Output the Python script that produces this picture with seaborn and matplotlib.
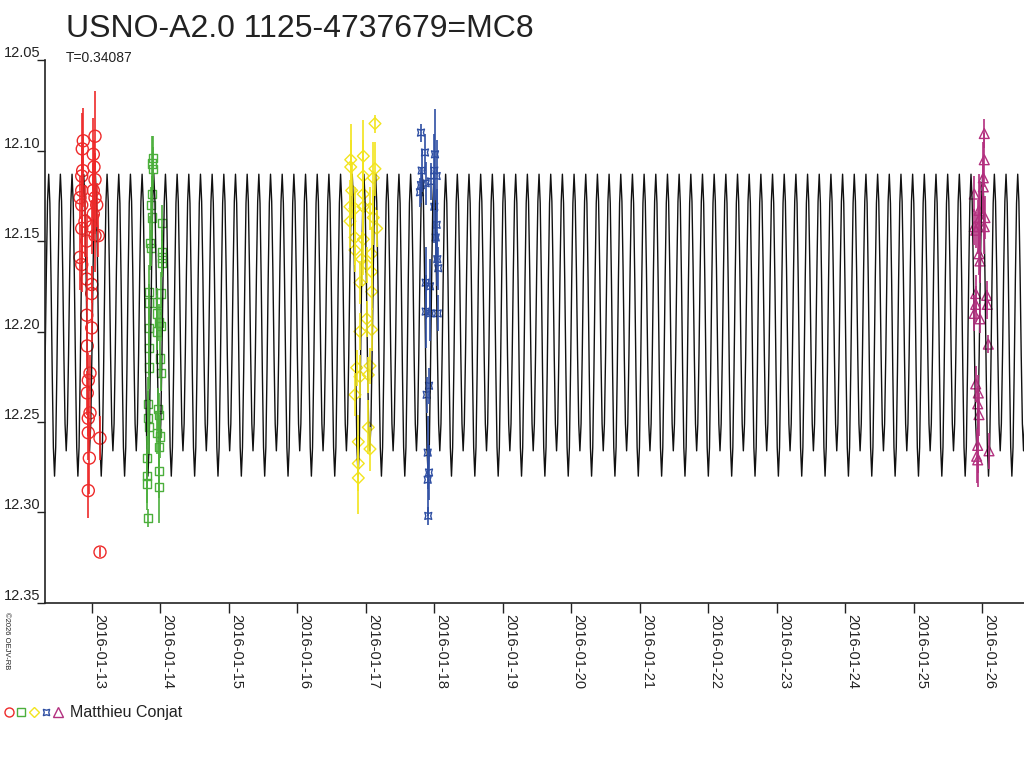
import numpy as np
import pandas as pd
import seaborn as sns
import matplotlib.pyplot as plt
import matplotlib.dates as mdates
from matplotlib.lines import Line2D
from matplotlib.legend_handler import HandlerTuple

# light curve of USNO-A2.0 1125-4737679 (times = day of January 2016)
title = "USNO-A2.0 1125-4737679=MC8"
period = 0.34087
epoch_day = 20.975          # a primary minimum
observer = "Matthieu Conjat"

# one cycle of the model curve (20 equal phase steps)
template_mag = [12.280, 12.264, 12.222, 12.171, 12.129, 12.113, 12.128, 12.166, 12.213, 12.251,
                12.266, 12.251, 12.213, 12.166, 12.128, 12.113, 12.129, 12.171, 12.222, 12.264]

red_day = [12.873, 12.858, 13.044, 13.019, 13.029, 12.864, 12.850, 13.044, 12.850, 13.019,
           12.825, 13.044, 12.850, 13.069, 12.898, 13.019, 12.850, 12.996, 13.044, 13.092,
           12.923, 12.825, 12.850, 12.923, 12.996, 12.996, 12.923, 12.996, 12.931, 12.971,
           12.946, 12.931, 12.971, 12.946, 12.946, 13.117, 12.961, 12.946, 13.117]
red_mag = [12.0945, 12.099, 12.092, 12.102, 12.109, 12.111, 12.114, 12.116, 12.122, 12.122,
           12.126, 12.126, 12.130, 12.130, 12.139, 12.135, 12.143, 12.142, 12.147, 12.147,
           12.150, 12.159, 12.163, 12.171, 12.174, 12.179, 12.191, 12.198, 12.208, 12.223,
           12.227, 12.234, 12.245, 12.248, 12.256, 12.259, 12.270, 12.288, 12.322]
red_err = [0.018, 0.02, 0.025, 0.02, 0.015, 0.02, 0.018, 0.015, 0.02, 0.015,
           0.012, 0.02, 0.015, 0.012, 0.02, 0.015, 0.02, 0.015, 0.02, 0.012,
           0.015, 0.018, 0.015, 0.012, 0.01, 0.015, 0.01, 0.008, 0.012, 0.01,
           0.015, 0.012, 0.015, 0.01, 0.015, 0.012, 0.02, 0.015, 0.003]

green_day = [13.886, 13.872, 13.895, 13.872, 13.861, 13.872, 14.018, 13.847, 13.861, 14.018,
             14.018, 14.026, 13.836, 14.003, 13.836, 13.945, 13.945, 13.978, 14.003, 13.836,
             13.953, 13.832, 13.993, 13.832, 14.003, 13.813, 13.959, 13.813, 13.982, 13.832,
             13.953, 13.993, 13.974, 13.799, 13.974, 13.799, 13.799, 13.974, 13.813]
green_mag = [12.104, 12.107, 12.110, 12.124, 12.130, 12.137, 12.140, 12.151, 12.154, 12.156,
             12.159, 12.162, 12.178, 12.179, 12.184, 12.184, 12.190, 12.195, 12.197, 12.198,
             12.200, 12.209, 12.215, 12.220, 12.223, 12.240, 12.243, 12.248, 12.246, 12.253,
             12.256, 12.258, 12.264, 12.270, 12.277, 12.280, 12.284, 12.286, 12.303]
green_err = [0.012, 0.015, 0.012, 0.01, 0.01, 0.012, 0.01, 0.015, 0.01, 0.012,
             0.01, 0.008, 0.015, 0.012, 0.01, 0.008, 0.01, 0.01, 0.008, 0.012,
             0.01, 0.015, 0.01, 0.012, 0.01, 0.015, 0.012, 0.015, 0.012, 0.015,
             0.012, 0.012, 0.015, 0.012, 0.015, 0.015, 0.015, 0.02, 0.005]

yellow_day = [17.131, 16.777, 16.961, 17.131, 16.777, 16.961, 17.107, 16.791, 16.961, 16.766,
              16.839, 16.961, 17.058, 16.766, 17.107, 17.156, 16.839, 16.961, 16.839, 17.083,
              16.937, 17.010, 17.083, 16.912, 17.083, 17.010, 16.912, 17.083, 16.864, 17.058,
              16.912, 17.034, 16.839, 17.034, 16.888, 17.058, 16.888, 16.888]
yellow_mag = [12.085, 12.105, 12.103, 12.110, 12.109, 12.114, 12.115, 12.122, 12.124, 12.131,
              12.132, 12.131, 12.132, 12.139, 12.137, 12.143, 12.148, 12.149, 12.155, 12.157,
              12.160, 12.163, 12.167, 12.173, 12.178, 12.193, 12.200, 12.199, 12.220, 12.219,
              12.225, 12.224, 12.235, 12.253, 12.261, 12.265, 12.273, 12.281]
yellow_err = [0.005, 0.02, 0.02, 0.015, 0.015, 0.02, 0.02, 0.015, 0.02, 0.015,
              0.012, 0.02, 0.012, 0.015, 0.015, 0.01, 0.015, 0.02, 0.012, 0.015,
              0.015, 0.01, 0.012, 0.012, 0.01, 0.01, 0.01, 0.012, 0.01, 0.01,
              0.012, 0.01, 0.012, 0.015, 0.015, 0.012, 0.015, 0.02]

blue_day = [17.803, 17.861, 18.007, 17.813, 17.997, 17.949, 17.872, 17.803, 17.788, 18.032,
            17.997, 18.032, 18.018, 18.041, 18.055, 17.872, 17.934, 17.872, 17.934, 18.047,
            17.920, 17.886, 17.901, 17.920, 17.901, 17.909]
blue_mag = [12.090, 12.101, 12.102, 12.111, 12.111, 12.117, 12.118, 12.119, 12.123, 12.114,
            12.131, 12.141, 12.148, 12.160, 12.165, 12.173, 12.175, 12.189, 12.190, 12.190,
            12.230, 12.235, 12.267, 12.278, 12.282, 12.302]
blue_err = [0.005, 0.01, 0.025, 0.012, 0.02, 0.01, 0.012, 0.01, 0.008, 0.02,
            0.02, 0.02, 0.015, 0.015, 0.012, 0.02, 0.015, 0.02, 0.015, 0.01,
            0.01, 0.01, 0.02, 0.015, 0.02, 0.005]

magenta_day = [26.026, 26.026, 26.012, 26.012, 25.880, 25.949, 25.963, 26.036, 25.880, 25.939,
               26.026, 25.901, 25.949, 25.963, 25.901, 26.061, 25.901, 26.070, 25.880, 25.963,
               26.085, 25.901, 25.939, 25.930, 25.949, 25.930, 26.095, 25.915, 25.930]
magenta_mag = [12.0905, 12.105, 12.115, 12.120, 12.124, 12.133, 12.137, 12.137, 12.142, 12.142,
               12.142, 12.144, 12.157, 12.161, 12.179, 12.180, 12.185, 12.185, 12.190, 12.193,
               12.207, 12.229, 12.234, 12.240, 12.246, 12.263, 12.266, 12.269, 12.271]
magenta_err = [0.008, 0.015, 0.02, 0.015, 0.01, 0.02, 0.02, 0.012, 0.01, 0.015,
               0.015, 0.01, 0.012, 0.012, 0.01, 0.008, 0.01, 0.008, 0.01, 0.008,
               0.005, 0.01, 0.01, 0.01, 0.012, 0.015, 0.01, 0.015, 0.015]

first_day, last_day = 13, 26
x_left, x_right = 12.314, 26.606


def to_time(days):
    return pd.Timestamp("2016-01-01") + pd.to_timedelta(np.asarray(days, dtype=float) - 1, unit="D")


sns.set_style("ticks")
plt.rcParams["font.family"] = ["Liberation Sans", "DejaVu Sans"]

fig = plt.figure(figsize=(10.24, 7.68), dpi=100)
ax = fig.add_axes([45 / 1024, 1 - 602.7 / 768, 979 / 1024, 542.4 / 768])

# model curve: the read cycle repeated with the period
cycles = np.arange(-27, 18)
phase = np.arange(len(template_mag)) / len(template_mag)
model_day = (epoch_day + (cycles[:, None] + phase[None, :]) * period).ravel()
model_mag = np.tile(template_mag, len(cycles))
sns.lineplot(x=to_time(model_day), y=model_mag, sort=False, estimator=None,
             color="#111111", lw=1.0, ax=ax)

series = [
    (red_day, red_mag, red_err, "#ee2a2a", "o", 75, 6.5),
    (green_day, green_mag, green_err, "#4caf3c", "s", 36, 6.0),
    (yellow_day, yellow_mag, yellow_err, "#f2e41e", "D", 36, 5.0),
    (blue_day, blue_mag, blue_err, "#2f4fa3", (4, 1, 45), 50, 6.5),
    (magenta_day, magenta_mag, magenta_err, "#b3307f", "^", 50, 6.5),
]
handles = []
for days, mags, errs, col, mk, size, leg_size in series:
    t = to_time(days)
    ax.errorbar(t, mags, yerr=errs, fmt="none", ecolor=col, elinewidth=1.2, capsize=0)
    sns.scatterplot(x=t, y=mags, marker=mk, s=size, facecolor="none",
                    edgecolor=col, linewidth=1.0, ax=ax)
    handles.append(Line2D([], [], ls="none", marker=mk, markersize=leg_size,
                          markerfacecolor="none", markeredgecolor=col, markeredgewidth=1.0))

ax.set_ylim(12.35, 12.05)
ax.set_yticks(np.arange(12.05, 12.351, 0.05))
ax.yaxis.set_major_formatter(plt.FormatStrFormatter("%.2f"))
ax.set_xlim(to_time([x_left])[0], to_time([x_right])[0])
ax.set_xticks(to_time(range(first_day, last_day + 1)))
ax.xaxis.set_major_formatter(mdates.DateFormatter("%Y-%m-%d"))
ax.set_xlabel("")
ax.set_ylabel("")

sns.despine(ax=ax)
for sp in ["left", "bottom"]:
    ax.spines[sp].set_linewidth(1.2)
    ax.spines[sp].set_color("#222222")
ax.tick_params(axis="y", length=6, width=1, pad=-2.5, labelsize=10.5, colors="#222222")
ax.tick_params(axis="x", length=7, width=1, pad=1, labelsize=10.5, colors="#222222")
for lbl in ax.get_yticklabels():
    lbl.set_verticalalignment("bottom")
for lbl in ax.get_xticklabels():
    lbl.set_rotation(270)
    lbl.set_horizontalalignment("left")
    lbl.set_verticalalignment("top")

fig.text(66 / 1024, 1 - 29 / 768, title, fontsize=23, va="center", ha="left", color="#222222")
fig.text(66 / 1024, 1 - 58 / 768, f"T={period}", fontsize=10, va="center", ha="left", color="#222222")
fig.text(3 / 1024, 1 - 612 / 768, "\u00a92026 OEJV-RB", fontsize=5.5, rotation=270,
         va="top", ha="left", color="#222222")

fig.legend(handles=[tuple(handles)], labels=[observer],
           handler_map={tuple: HandlerTuple(ndivide=None, pad=0.3)},
           loc="center left", bbox_to_anchor=(0.0, 1 - 713 / 768), frameon=False,
           handlelength=3.6, handletextpad=0.5, borderpad=0, borderaxespad=0.3,
           fontsize=11.5, labelcolor="#222222")

fig.savefig("out.png", dpi=100)
